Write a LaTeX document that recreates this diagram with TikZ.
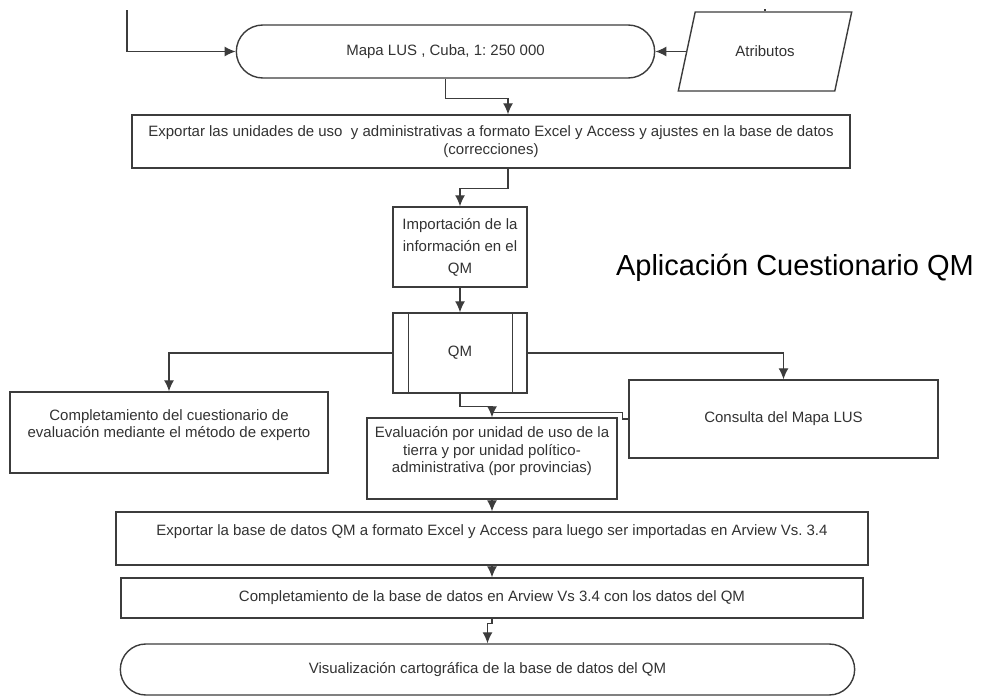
\documentclass[tikz,border=0pt]{standalone}
\usepackage{fontspec}
\setmainfont{Liberation Sans}
\usetikzlibrary{arrows.meta,positioning,shapes.geometric,shapes.misc}
\definecolor{lineGray}{RGB}{60,60,60}
\definecolor{textGray}{RGB}{50,50,50}
\frenchspacing

\begin{document}
\begin{tikzpicture}[x=1pt,y=-1pt,
    font=\fontsize{15}{17.5}\selectfont,
    box/.style={draw=lineGray, line width=1.4pt, rectangle, align=center, text=textGray, inner sep=2pt},
    terminal/.style={draw=lineGray, line width=1.4pt, rounded rectangle, align=center, text=textGray},
    flow/.style={draw=lineGray, line width=1.3pt, -{Latex[length=11pt,width=10pt]}},
    link/.style={draw=lineGray, line width=1.3pt}]

\useasboundingbox (0,0) rectangle (989,696);

% =========================
% 1. entrada del mapa
% =========================
\node[terminal, minimum width=425pt, minimum height=53pt] (mapa) at (445.5,51.5) {Mapa LUS , Cuba, 1: 250 000};
\node[box, trapezium, trapezium left angle=63, trapezium right angle=117,
      trapezium stretches=true, minimum width=174pt, minimum height=79pt] (atrib) at (765,51.5) {Atributos};

\coordinate (entrada) at (127,10);
\coordinate (atribin) at (765,9);
\draw[flow] (entrada) |- (mapa.west);
\draw[link] (atribin) -- (atribin |- atrib.north);
\draw[flow] (atrib.left side) -- (mapa.east);

\node[box, minimum width=718pt, minimum height=53pt] (expuni) at (491,141.5)
    {Exportar las unidades de uso\ \ y administrativas a formato Excel y Access y ajustes en la base de datos\\(correcciones)};
\draw[flow] (mapa.south) -- ++(0,20) -| ([xshift=17pt]expuni.north);

% =========================
% 2. QM
% =========================
\node[box, minimum width=134pt, minimum height=80pt] (import) at (460,247)
    {Importación de la\\[4.5pt]información en el\\[4.5pt]QM};
\node[box, minimum width=134pt, minimum height=80pt] (qm) at (460,353) {QM};
\draw[link] ([xshift=16pt]qm.north west) -- ([xshift=16pt]qm.south west);
\draw[link] ([xshift=-15pt]qm.north east) -- ([xshift=-15pt]qm.south east);

\draw[flow] ([xshift=17pt]expuni.south) -- ++(0,20) -| (import.north);
\draw[flow] (import) -- (qm);

\node[font=\fontsize{29}{34}\selectfont, text=black] (titulo) at (795,268) {Aplicación Cuestionario QM};

% =========================
% 3. ramas del QM
% =========================
\node[box, minimum width=318pt, minimum height=81pt] (cuest) at (169,432.5)
    {Completamiento del cuestionario de\\evaluación mediante el método de experto\\\mbox{}};
\node[box, minimum width=250pt, minimum height=81pt] (evalua) at (492,458.5)
    {Evaluación por unidad de uso de la\\tierra y por unidad político-\\administrativa (por provincias)\\\mbox{}};
\node[box, minimum width=309pt, minimum height=78pt] (consulta) at (783.5,419) {Consulta del Mapa LUS};

\draw[flow] (qm.west) -| (cuest.north);
\draw[flow] (qm.east) -| (consulta.north);
\draw[flow] (qm.south) -- ++(0,13) -| (evalua.north);
\draw[link] (consulta.west) -- ++(-6,0) |- ([yshift=5pt]evalua.north);

% =========================
% 4. salida
% =========================
\node[box, minimum width=752pt, minimum height=53pt] (expqm) at (492,538.5)
    {Exportar la base de datos QM a formato Excel y Access para luego ser importadas en Arview Vs. 3.4\\\mbox{}};
\node[box, minimum width=742pt, minimum height=40pt] (compbd) at (492,598)
    {Completamiento de la base de datos en Arview Vs 3.4 con los datos del QM};
\node[terminal, minimum width=741pt, minimum height=51pt] (visual) at (487.5,669.5)
    {Visualización cartográfica de la base de datos del QM};

\draw[flow] (evalua) -- (expqm);
\draw[flow] (expqm) -- (compbd);
\draw[flow] (compbd.south) -- ++(0,5) -| (visual.north);

\end{tikzpicture}
\end{document}
